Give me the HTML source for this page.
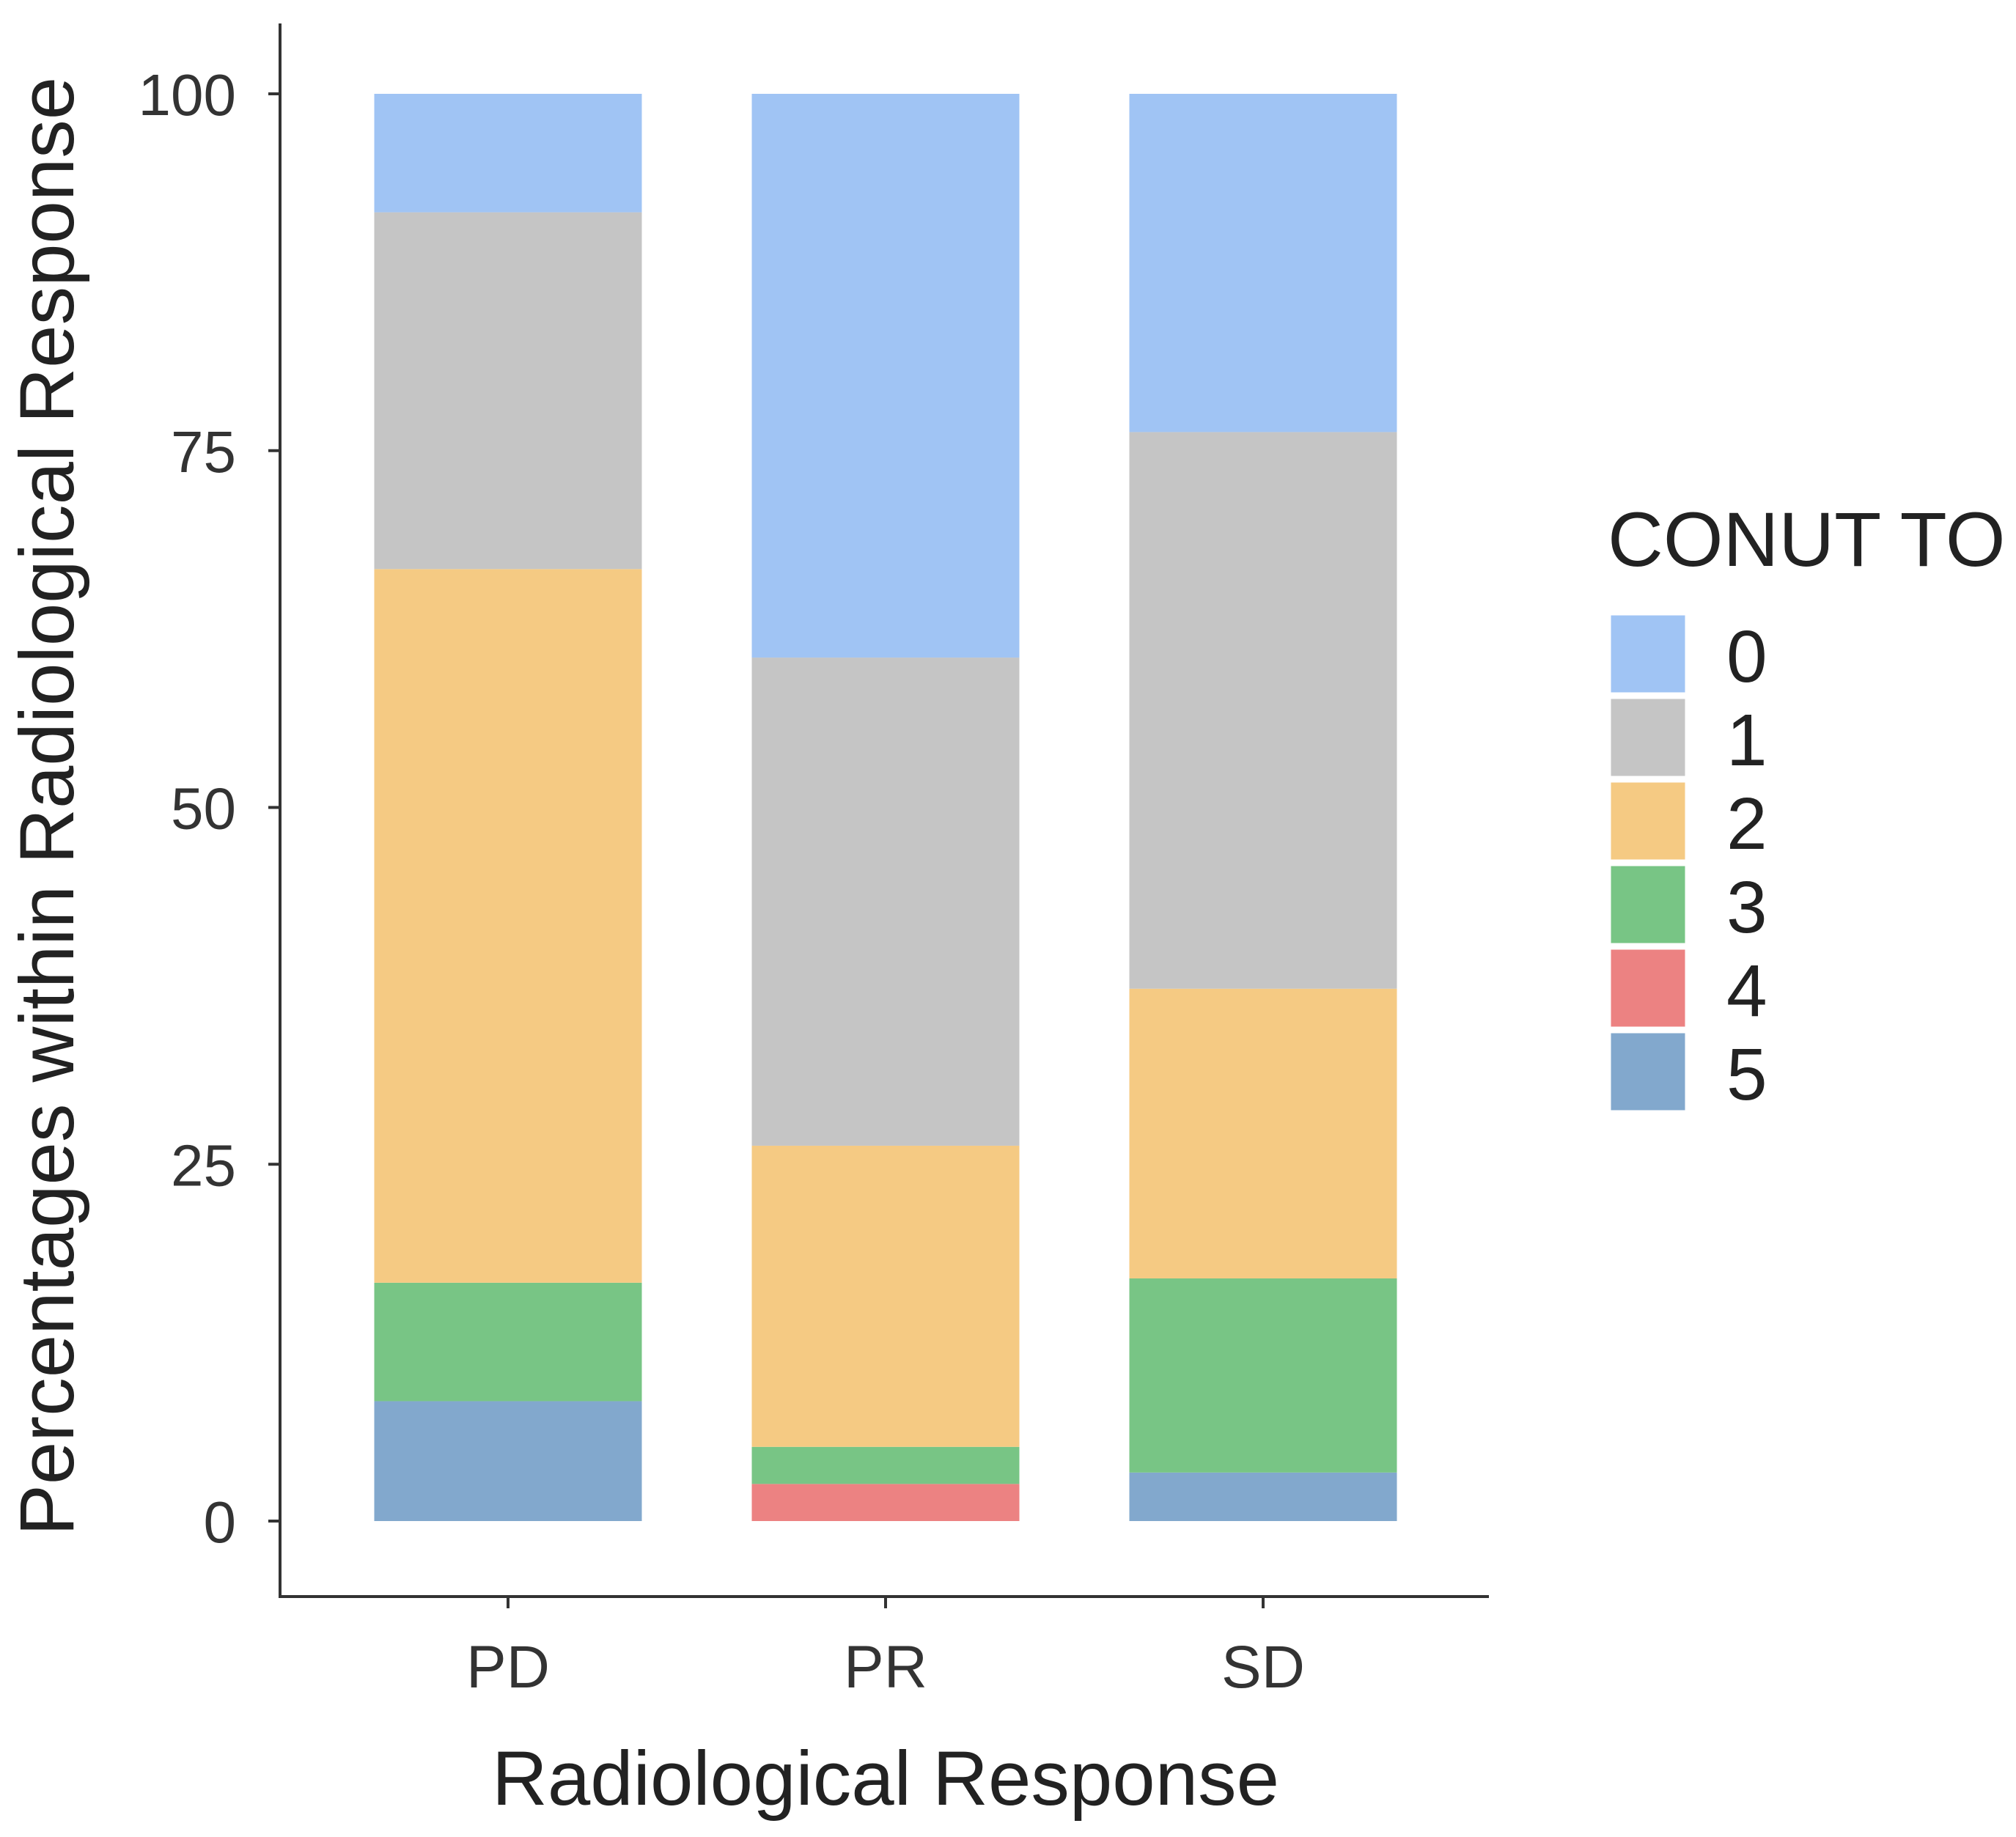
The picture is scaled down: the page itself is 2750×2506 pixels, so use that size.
<!DOCTYPE html>
<html><head><meta charset="utf-8"><style>
body{margin:0;background:#fff}
svg{display:block;font-family:"Liberation Sans",sans-serif}
</style></head><body>
<svg id="chart" width="2750" height="2506" viewBox="0 0 2750 2506">
<g id="plot"></g>
<g id="axes"></g>
<g id="legend"></g>
</svg>
<script>
const categories = ["PD","PR","SD"];
const levels = ["0","1","2","3","4","5"];
const colors = ["#a0c4f4","#c5c5c5","#f5ca83","#78c585","#ec8282","#82a8cd"];
const s0 = [8.3, 39.5, 23.7];
const s1 = [25.0, 34.2, 39.0];
const s2 = [50.0, 21.1, 20.3];
const s3 = [8.3, 2.6, 13.6];
const s4 = [0, 2.6, 0];
const s5 = [8.4, 0, 3.4];
const yTicks = [0,25,50,75,100];

const series = [s0,s1,s2,s3,s4,s5];
const NS="http://www.w3.org/2000/svg";
function el(tag, attrs, parent){const e=document.createElementNS(NS,tag);for(const k in attrs)e.setAttribute(k,attrs[k]);parent.appendChild(e);return e;}
const y = v => 2075 - v*(2075-128)/100;
const x = i => 693 + i*515;
const bw = 365;
const plot=document.getElementById('plot'), axes=document.getElementById('axes'), legend=document.getElementById('legend');

categories.forEach((c,i)=>{
  let base=0;
  for(let k=series.length-1;k>=0;k--){
    const v=series[k][i]; if(!v) continue;
    const r=el('rect',{x:x(i)-bw/2,y:y(base+v),width:bw,height:y(base)-y(base+v),fill:colors[k]},plot);
    
    
    base+=v;
  }
});

let a=el('line',{x1:382,y1:32,x2:382,y2:2179,stroke:'#333',"stroke-width":4},axes);


a=el('line',{x1:380,y1:2178,x2:2031,y2:2178,stroke:'#333',"stroke-width":4},axes);


yTicks.forEach(t=>{
  el('line',{x1:366,y1:y(t),x2:382,y2:y(t),stroke:'#333',"stroke-width":4},axes);
  const tx=el('text',{x:322,y:y(t)+29,"text-anchor":"end","font-size":80,fill:'#333'},axes);
  tx.textContent=t;
  
  
});
categories.forEach((c,i)=>{
  el('line',{x1:x(i),y1:2178,x2:x(i),y2:2194,stroke:'#333',"stroke-width":4},axes);
  const tx=el('text',{x:x(i),y:2302,"text-anchor":"middle","font-size":82,fill:'#333'},axes);
  tx.textContent=c;
  
  
});
let t=el('text',{x:1208,y:2462,"text-anchor":"middle","font-size":105,fill:'#222'},axes);
t.textContent='Radiological Response';


t=el('text',{x:0,y:0,"text-anchor":"middle","font-size":105,fill:'#222',transform:'translate(100,1100) rotate(-90)'},axes);
t.textContent='Percentages within Radiological Response';



t=el('text',{x:2193,y:772,"font-size":105,fill:'#222'},legend);
t.textContent='CONUT TO';


levels.forEach((l,k)=>{
  const yy=838+k*114;
  const r=el('rect',{x:2196,y:yy,width:104,height:108,fill:colors[k],stroke:'#fff',"stroke-width":3},legend);
  
  
  const tx=el('text',{x:2355,y:yy+92,"font-size":100,fill:'#222'},legend);
  tx.textContent=l;
  
  
});
</script>
</body></html>
